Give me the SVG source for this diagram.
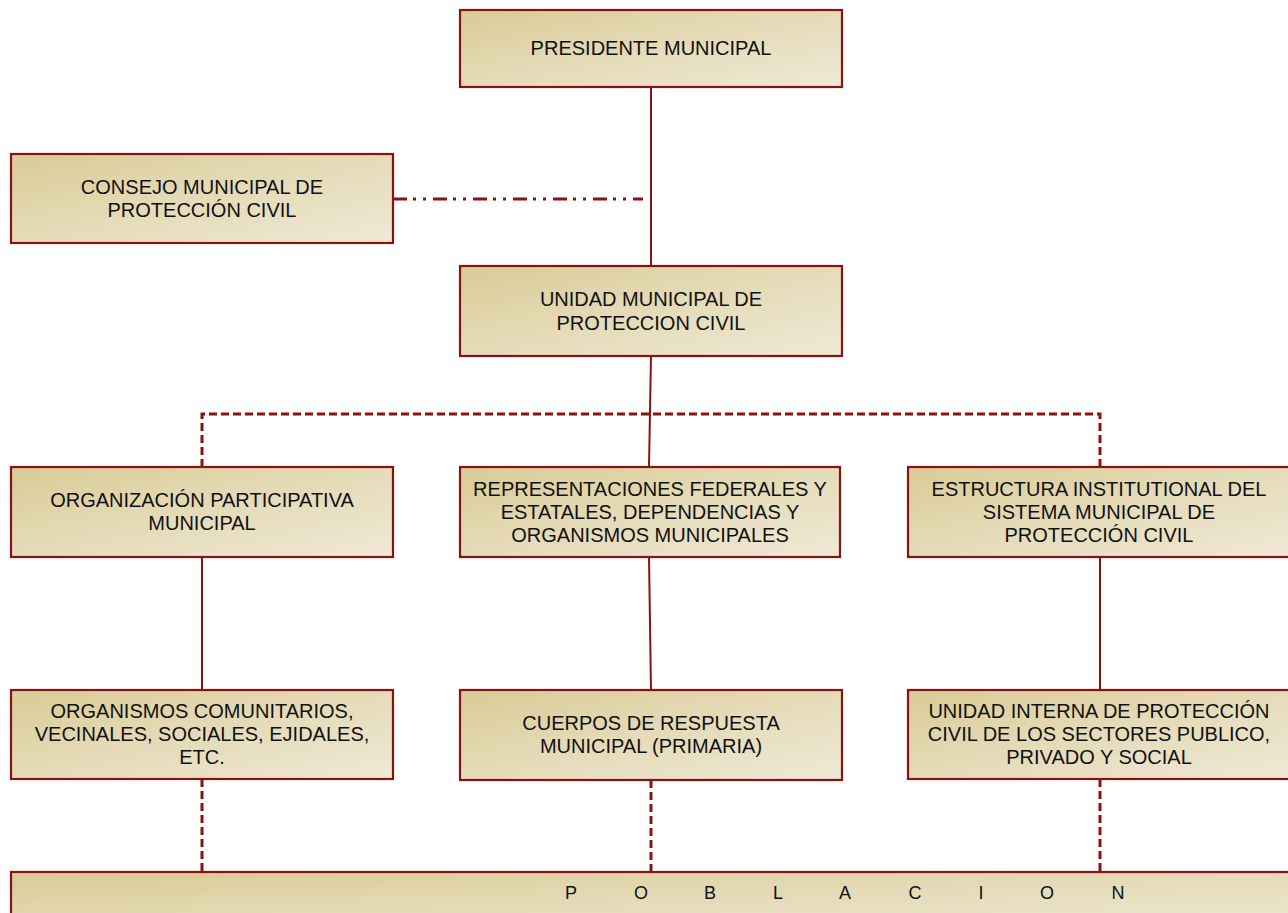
<svg xmlns="http://www.w3.org/2000/svg" width="1288" height="913" viewBox="0 0 1288 913">
<defs>
<linearGradient id="fill" x1="0" y1="0" x2="1" y2="1">
<stop offset="0" stop-color="#d9cb96"/>
<stop offset="0.5" stop-color="#e5dbb8"/>
<stop offset="1" stop-color="#efe9d6"/>
</linearGradient>
<style>
.box{fill:url(#fill);stroke:#8b1212;stroke-width:2.2}
.t{font-family:"Liberation Sans",Arial,sans-serif;font-size:20px;fill:#111;text-anchor:middle}
.p{font-family:"Liberation Sans",Arial,sans-serif;font-size:18px;fill:#111;text-anchor:middle}
.solid{stroke:#8b1212;stroke-width:2;fill:none}
.dash{stroke:#8b1212;stroke-width:3;fill:none;stroke-dasharray:8 4}
.dashdot{stroke:#8b1212;stroke-width:3;fill:none;stroke-dasharray:14 6 3 7 3 7}
</style>
</defs>
<rect width="1288" height="913" fill="#fff"/>
<g id="connectors">
<line class="solid" x1="651" y1="87" x2="651" y2="266"/>
<line class="dashdot" x1="393" y1="199" x2="643" y2="199"/>
<line class="solid" x1="651" y1="356" x2="649" y2="467"/>
<polyline class="dash" points="202,467 202,414 1100,414 1100,467"/>
<line class="solid" x1="202" y1="557" x2="202" y2="690"/>
<line class="solid" x1="649" y1="557" x2="651" y2="690"/>
<line class="solid" x1="1100" y1="557" x2="1100" y2="690"/>
<line class="dash" x1="202" y1="779" x2="202" y2="872"/>
<line class="dash" x1="651" y1="780" x2="651" y2="872"/>
<line class="dash" x1="1100" y1="779" x2="1100" y2="872"/>
</g>
<g id="presidente">
<rect class="box" x="460" y="10" width="382" height="77"/>
<text class="t" x="651" y="55">PRESIDENTE MUNICIPAL</text>
</g>
<g id="consejo">
<rect class="box" x="11" y="154" width="382" height="89"/>
<text class="t" x="202" y="194">CONSEJO MUNICIPAL DE</text>
<text class="t" x="202" y="217">PROTECCIÓN CIVIL</text>
</g>
<g id="unidad">
<rect class="box" x="460" y="266" width="382" height="90"/>
<text class="t" x="651" y="306">UNIDAD MUNICIPAL DE</text>
<text class="t" x="651" y="330">PROTECCION CIVIL</text>
</g>
<g id="organizacion">
<rect class="box" x="11" y="467" width="382" height="90"/>
<text class="t" x="202" y="507">ORGANIZACIÓN PARTICIPATIVA</text>
<text class="t" x="202" y="530">MUNICIPAL</text>
</g>
<g id="representaciones">
<rect class="box" x="460" y="467" width="380" height="90"/>
<text class="t" x="650" y="496">REPRESENTACIONES FEDERALES Y</text>
<text class="t" x="650" y="519">ESTATALES, DEPENDENCIAS Y</text>
<text class="t" x="650" y="542">ORGANISMOS MUNICIPALES</text>
</g>
<g id="estructura">
<rect class="box" x="908" y="467" width="382" height="90"/>
<text class="t" x="1099" y="496">ESTRUCTURA INSTITUTIONAL DEL</text>
<text class="t" x="1099" y="519">SISTEMA MUNICIPAL DE</text>
<text class="t" x="1099" y="542">PROTECCIÓN CIVIL</text>
</g>
<g id="organismos">
<rect class="box" x="11" y="690" width="382" height="89"/>
<text class="t" x="202" y="718">ORGANISMOS COMUNITARIOS,</text>
<text class="t" x="202" y="741">VECINALES, SOCIALES, EJIDALES,</text>
<text class="t" x="202" y="764">ETC.</text>
</g>
<g id="cuerpos">
<rect class="box" x="460" y="690" width="382" height="90"/>
<text class="t" x="651" y="730">CUERPOS DE RESPUESTA</text>
<text class="t" x="651" y="753">MUNICIPAL (PRIMARIA)</text>
</g>
<g id="unidad-interna">
<rect class="box" x="908" y="690" width="382" height="89"/>
<text class="t" x="1099" y="718">UNIDAD INTERNA DE PROTECCIÓN</text>
<text class="t" x="1099" y="741">CIVIL DE LOS SECTORES PUBLICO,</text>
<text class="t" x="1099" y="764">PRIVADO Y SOCIAL</text>
</g>
<g id="poblacion">
<rect class="box" x="11" y="872" width="1290" height="60"/>
<text class="p" x="571 641 710 778 845 915 981 1047 1118" y="899">POBLACION</text>
</g>
</svg>
